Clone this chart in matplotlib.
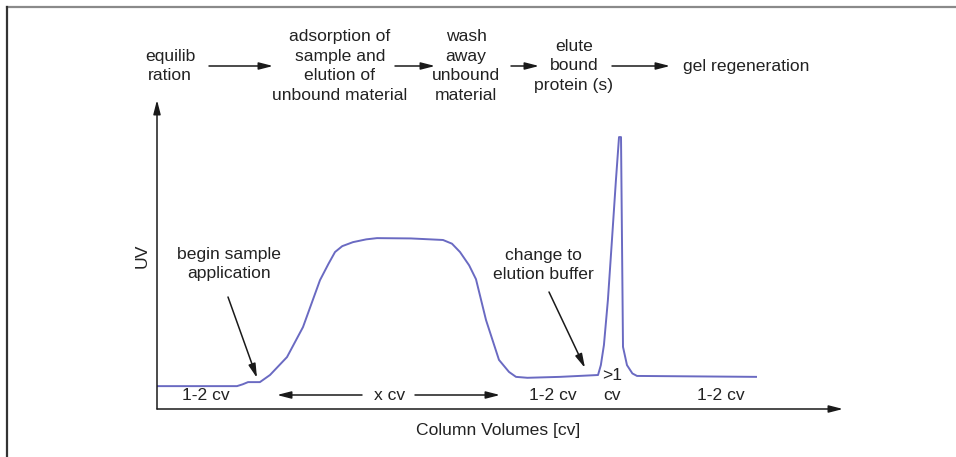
import matplotlib
matplotlib.use("Agg")
import matplotlib.pyplot as plt
from matplotlib.lines import Line2D

plt.rcParams['font.family'] = ['Liberation Sans', 'DejaVu Sans']

# UV trace of an affinity run, x in column volumes, y in relative UV
cv = [0.0, 1.166, 1.25, 1.327, 1.50, 1.647, 1.895, 2.128, 2.376, 2.50, 2.595,
      2.70, 2.857, 3.05, 3.207, 3.70, 4.169, 4.30, 4.417, 4.55, 4.650, 4.796,
      4.985, 5.131, 5.233, 5.40, 5.875, 6.429, 6.47, 6.515, 6.573, 6.632,
      6.690, 6.735, 6.764, 6.793, 6.851, 6.93, 6.997, 8.732]
uv = [0.074, 0.074, 0.080, 0.087, 0.087, 0.110, 0.168, 0.265, 0.417, 0.470,
      0.508, 0.527, 0.540, 0.549, 0.553, 0.552, 0.547, 0.535, 0.508, 0.465,
      0.420, 0.288, 0.159, 0.120, 0.104, 0.101, 0.104, 0.110, 0.142, 0.207,
      0.353, 0.547, 0.741, 0.880, 0.880, 0.201, 0.142, 0.115, 0.107, 0.104]

steps = ["equilib\nration",
         "adsorption of\nsample and\nelution of\nunbound material",
         "wash\naway\nunbound\nmaterial",
         "elute\nbound\nprotein (s)",
         "gel regeneration"]
step_x = [170, 340, 466, 574, 683]
step_arrows = [(209, 273), (395, 435), (511, 539), (612, 670)]

phase_labels = ["1-2 cv", "x cv", "1-2 cv", "cv", "1-2 cv"]
phase_x = [206, 390, 553, 612, 721]

W, H = 956, 457
fig = plt.figure(figsize=(W / 100, H / 100), dpi=100)
txt = '#222222'
fs = 12.6
ls = 1.4

# overlay in pixel units for the flow diagram and labels
over = fig.add_axes([0, 0, 1, 1])
over.set_xlim(0, W)
over.set_ylim(H, 0)
over.axis('off')

# frame lines on top and left
fig.add_artist(Line2D([7 / W, 1], [1 - 7 / H, 1 - 7 / H], color='#8a8a8a', lw=1.6))
fig.add_artist(Line2D([7 / W, 7 / W], [0, 1 - 7 / H], color='#333333', lw=1.6))

arrow_kw = dict(arrowstyle='-|>,head_length=0.7,head_width=0.18', color='#1a1a1a',
                lw=1.1, shrinkA=0, shrinkB=0, mutation_scale=12)

for s, x in zip(steps, step_x):
    ha = 'left' if s == "gel regeneration" else 'center'
    over.text(x, 66, s, ha=ha, va='center', fontsize=fs, color=txt, linespacing=ls)
for x0, x1 in step_arrows:
    over.annotate('', xy=(x1, 66), xytext=(x0, 66), arrowprops=arrow_kw)

# main plot area
ax = fig.add_axes([157 / W, 1 - 409 / H, (843 - 157) / W, (409 - 100) / H])
ax.patch.set_alpha(0)
ax.set_xlim(0, 10)
ax.set_ylim(0, 1)
for sp in ax.spines.values():
    sp.set_visible(False)
ax.set_xticks([])
ax.set_yticks([])
ax.annotate('', xy=(1, 0), xytext=(0, 0), xycoords='axes fraction', arrowprops=arrow_kw)
ax.annotate('', xy=(0, 1), xytext=(0, 0), xycoords='axes fraction', arrowprops=arrow_kw)

ax.plot(cv, uv, color='#6a6ac2', lw=1.4, solid_joinstyle='round')

over.text(142, 256, "UV", rotation=90, ha='center', va='center', fontsize=fs, color=txt)
over.text(498, 431, "Column Volumes [cv]", ha='center', va='center', fontsize=fs, color=txt)

over.text(229, 264, "begin sample\napplication", ha='center', va='center',
          fontsize=fs, color=txt, linespacing=ls)
over.annotate('', xy=(257, 378), xytext=(228, 297), arrowprops=arrow_kw)
over.text(543, 265, "change to\nelution buffer", ha='center', va='center',
          fontsize=fs, color=txt, linespacing=ls)
over.annotate('', xy=(585, 368), xytext=(549, 292), arrowprops=arrow_kw)

for s, x in zip(phase_labels, phase_x):
    over.text(x, 395, s, ha='center', va='center', fontsize=fs, color=txt)
over.text(612, 375, ">1", ha='center', va='center', fontsize=fs, color=txt)
over.annotate('', xy=(277, 395), xytext=(362, 395), arrowprops=arrow_kw)
over.annotate('', xy=(500, 395), xytext=(415, 395), arrowprops=arrow_kw)

fig.savefig("out.png", dpi=100)
